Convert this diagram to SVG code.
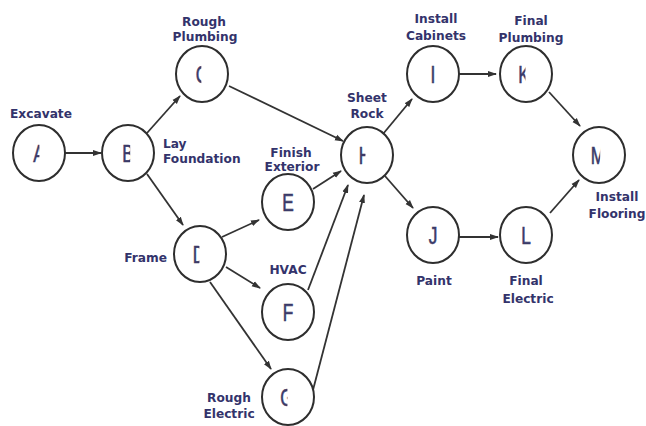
<svg xmlns="http://www.w3.org/2000/svg" width="646" height="426" viewBox="0 0 646 426">
<style>
.bg{fill:#ffffff}
.node ellipse{fill:#ffffff;stroke:#2e2e2e;stroke-width:2}
.ltr{font-family:"Liberation Sans",Arial,sans-serif;font-size:24px;fill:#3a3a68;stroke:#3a3a68;stroke-width:0.6;text-anchor:middle}
.lbl{font-family:"DejaVu Sans",Verdana,sans-serif;font-weight:bold;font-size:12.2px;fill:#33336b}
.mid{text-anchor:middle}
.end{text-anchor:end}
#connectors line{stroke:#333333;stroke-width:1.8;marker-end:url(#arr)}
</style>
<defs>
<marker id="arr" markerUnits="userSpaceOnUse" markerWidth="9" markerHeight="7" refX="8" refY="3.5" orient="auto">
<path d="M0,0.5 L9,3.5 L0,6.5 Z" fill="#333333"/>
</marker>
<clipPath id="c0" clipPathUnits="userSpaceOnUse"><rect x="-20" y="-30" width="20.5" height="60"/></clipPath>
<clipPath id="cm1" clipPathUnits="userSpaceOnUse"><rect x="-20" y="-30" width="19" height="60"/></clipPath>
<clipPath id="c2" clipPathUnits="userSpaceOnUse"><rect x="-20" y="-30" width="22" height="60"/></clipPath>
<clipPath id="c3" clipPathUnits="userSpaceOnUse"><rect x="-20" y="-30" width="23" height="60"/></clipPath>
</defs>
<rect class="bg" x="0" y="0" width="646" height="426"/>

<g id="connectors">
<line x1="65" y1="153" x2="101" y2="153"/>
<line x1="147" y1="133" x2="180" y2="96"/>
<line x1="147" y1="174" x2="183" y2="225"/>
<line x1="229" y1="86" x2="343" y2="141"/>
<line x1="222" y1="237" x2="259" y2="220"/>
<line x1="226" y1="267" x2="260" y2="288"/>
<line x1="210" y1="282" x2="271" y2="369"/>
<line x1="313" y1="189" x2="341" y2="171"/>
<line x1="308" y1="290" x2="348" y2="185"/>
<line x1="313" y1="390" x2="364" y2="195"/>
<line x1="383" y1="134" x2="412" y2="99"/>
<line x1="385" y1="176" x2="413" y2="208"/>
<line x1="459" y1="74" x2="496" y2="74"/>
<line x1="549" y1="92" x2="580" y2="126"/>
<line x1="459" y1="237" x2="498" y2="237"/>
<line x1="550" y1="213" x2="579" y2="180"/>
</g>

<g id="node-A" class="node">
<ellipse cx="39" cy="153" rx="26" ry="28"/>
<g transform="translate(39,162) scale(0.72,1)"><text class="ltr" x="0" y="0" clip-path="url(#c0)">A</text></g>
<text class="lbl mid" x="41" y="118">Excavate</text>
</g>
<g id="node-B" class="node">
<ellipse cx="128" cy="153" rx="26" ry="28"/>
<g transform="translate(128,162) scale(0.72,1)"><text class="ltr" x="0" y="0" clip-path="url(#c3)">B</text></g>
<text class="lbl" x="163" y="148">Lay</text>
<text class="lbl" x="163" y="163">Foundation</text>
</g>
<g id="node-C" class="node">
<ellipse cx="202" cy="74" rx="26" ry="28"/>
<g transform="translate(202,83) scale(0.72,1)"><text class="ltr" x="0" y="0" clip-path="url(#cm1)">C</text></g>
<text class="lbl mid" x="204" y="26">Rough</text>
<text class="lbl mid" x="205" y="41">Plumbing</text>
</g>
<g id="node-D" class="node">
<ellipse cx="200" cy="254" rx="26" ry="28"/>
<g transform="translate(199,263) scale(0.72,1)"><text class="ltr" x="0" y="0" clip-path="url(#c0)">D</text></g>
<text class="lbl end" x="167" y="262">Frame</text>
</g>
<g id="node-E" class="node">
<ellipse cx="288" cy="202" rx="26" ry="28"/>
<g transform="translate(288,211) scale(0.72,1)"><text class="ltr" x="0" y="0">E</text></g>
<text class="lbl mid" x="291" y="157">Finish</text>
<text class="lbl mid" x="292" y="171">Exterior</text>
</g>
<g id="node-F" class="node">
<ellipse cx="288" cy="312" rx="26" ry="28"/>
<g transform="translate(288,321) scale(0.72,1)"><text class="ltr" x="0" y="0">F</text></g>
<text class="lbl mid" x="288" y="274">HVAC</text>
</g>
<g id="node-G" class="node">
<ellipse cx="288" cy="397" rx="26" ry="28"/>
<g transform="translate(287,406) scale(0.72,1)"><text class="ltr" x="0" y="0" clip-path="url(#c0)">G</text></g>
<text class="lbl mid" x="229" y="402">Rough</text>
<text class="lbl mid" x="229" y="418">Electric</text>
</g>
<g id="node-H" class="node">
<ellipse cx="367" cy="155" rx="26" ry="28"/>
<g transform="translate(365,164) scale(0.72,1)"><text class="ltr" x="0" y="0" clip-path="url(#c0)">H</text></g>
<text class="lbl mid" x="367" y="102">Sheet</text>
<text class="lbl mid" x="367" y="118">Rock</text>
</g>
<g id="node-I" class="node">
<ellipse cx="433" cy="74" rx="26" ry="28"/>
<g transform="translate(433,83) scale(0.72,1)"><text class="ltr" x="0" y="0">I</text></g>
<text class="lbl mid" x="436" y="23">Install</text>
<text class="lbl mid" x="436" y="40">Cabinets</text>
</g>
<g id="node-J" class="node">
<ellipse cx="433" cy="235" rx="26" ry="28"/>
<g transform="translate(433,244) scale(0.72,1)"><text class="ltr" x="0" y="0">J</text></g>
<text class="lbl mid" x="434" y="285">Paint</text>
</g>
<g id="node-K" class="node">
<ellipse cx="526" cy="74" rx="26" ry="28"/>
<g transform="translate(524,83) scale(0.72,1)"><text class="ltr" x="0" y="0" clip-path="url(#c2)">K</text></g>
<text class="lbl mid" x="531" y="25">Final</text>
<text class="lbl mid" x="531" y="42">Plumbing</text>
</g>
<g id="node-L" class="node">
<ellipse cx="526" cy="235" rx="26" ry="28"/>
<g transform="translate(526,244) scale(0.72,1)"><text class="ltr" x="0" y="0">L</text></g>
<text class="lbl mid" x="526" y="285">Final</text>
<text class="lbl mid" x="528" y="303">Electric</text>
</g>
<g id="node-M" class="node">
<ellipse cx="599" cy="155" rx="26" ry="28"/>
<g transform="translate(598,164) scale(0.72,1)"><text class="ltr" x="0" y="0" clip-path="url(#c3)">M</text></g>
<text class="lbl mid" x="617" y="201">Install</text>
<text class="lbl mid" x="617" y="218">Flooring</text>
</g>
</svg>
